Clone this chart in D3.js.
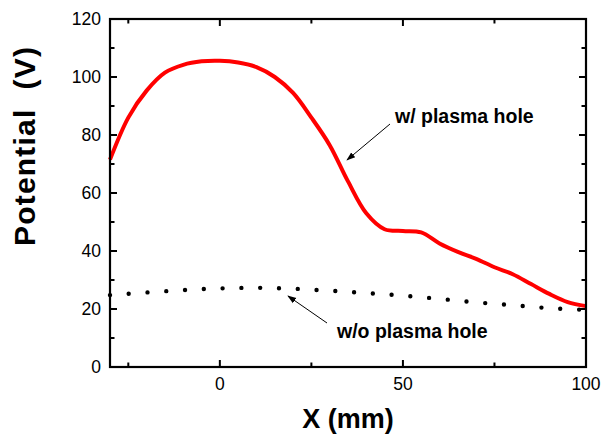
<!DOCTYPE html>
<html>
<head>
<meta charset="utf-8">
<script src="https://cdn.jsdelivr.net/npm/d3@7"></script>
<style>
  body { margin: 0; background: #fff; }
  text { font-family: "Liberation Sans", Arial, sans-serif; }
</style>
</head>
<body>
<div id="chart"></div>
<script>
        // Chart data
        var xWith = [-30, -25, -20, -15, -10, -5, 0, 5, 10, 15, 20, 25, 30, 35, 40, 45, 50, 55, 60, 65, 70, 75, 80, 85, 90, 95, 100];
        var potWith = [71.5, 86, 95.3, 101.5, 104.2, 105.4, 105.6, 105, 103.4, 100, 94.5, 86, 76.5, 64, 53, 47.5, 46.9, 46.4, 42.6, 39.7, 37.3, 34.4, 32, 28.6, 25.2, 22.4, 21];
        var xWithout = [-30, -20, -10, 0, 10, 20, 30, 40, 50, 60, 70, 80, 90, 100];
        var potWithout = [24.8, 25.7, 26.5, 27.1, 27.3, 27.0, 26.3, 25.5, 24.6, 23.5, 22.3, 21.3, 20.3, 19.7];
        var xTicks = [0, 50, 100];
        var xMinor = [-25, 25, 75];
        var yTicks = [0, 20, 40, 60, 80, 100, 120];
        var yMinor = [10, 30, 50, 70, 90, 110];

        var width = 608, height = 437;
        var margin = { top: 19, right: 22, bottom: 70, left: 110 };
        var plotW = width - margin.left - margin.right;
        var plotH = height - margin.top - margin.bottom;

        var svg = d3.select("#chart")
            .append("svg")
            .attr("width", width)
            .attr("height", height);

        var x = d3.scaleLinear().domain([-30, 100]).range([margin.left, margin.left + plotW]);
        var y = d3.scaleLinear().domain([0, 120]).range([margin.top + plotH, margin.top]);

        // arrow marker
        svg.append("defs").append("marker")
            .attr("id", "arrow")
            .attr("viewBox", "0 0 10 10")
            .attr("refX", 9).attr("refY", 5)
            .attr("markerWidth", 9).attr("markerHeight", 9)
            .attr("markerUnits", "userSpaceOnUse")
            .attr("orient", "auto")
            .append("path")
            .attr("d", "M0,1.5 L10,5 L0,8.5 Z")
            .attr("fill", "#000");

        // Curves
        var line = d3.line()
            .x(d => x(d[0]))
            .y(d => y(d[1]))
            .curve(d3.curveCatmullRom.alpha(0.5));

        svg.append("path")
            .datum(d3.zip(xWithout, potWithout))
            .attr("d", line)
            .attr("fill", "none")
            .attr("stroke", "#000")
            .attr("stroke-width", 4.4)
            .attr("stroke-linecap", "round")
            .attr("stroke-dasharray", "0 18.8");

        svg.append("path")
            .datum(d3.zip(xWith, potWith))
            .attr("d", line)
            .attr("fill", "none")
            .attr("stroke", "#ff0000")
            .attr("stroke-width", 4)
            .attr("stroke-linejoin", "round");

        // Inward ticks on all four sides
        var ticks = svg.append("g").attr("stroke", "#000").attr("stroke-width", 2);
        function xTick(vals, len) {
            vals.forEach(function(v) {
                ticks.append("line").attr("x1", x(v)).attr("x2", x(v))
                    .attr("y1", y(0)).attr("y2", y(0) - len);
                ticks.append("line").attr("x1", x(v)).attr("x2", x(v))
                    .attr("y1", y(120)).attr("y2", y(120) + len);
            });
        }
        function yTick(vals, len) {
            vals.forEach(function(v) {
                ticks.append("line").attr("y1", y(v)).attr("y2", y(v))
                    .attr("x1", x(-30)).attr("x2", x(-30) + len);
                ticks.append("line").attr("y1", y(v)).attr("y2", y(v))
                    .attr("x1", x(100)).attr("x2", x(100) - len);
            });
        }
        xTick(xTicks, 7); xTick(xMinor, 4.5);
        yTick(yTicks, 7); yTick(yMinor, 4.5);

        // Tick labels
        svg.append("g").selectAll("text")
            .data(xTicks).enter().append("text")
            .attr("x", d => x(d))
            .attr("y", y(0) + 23)
            .attr("text-anchor", "middle")
            .style("font-size", "17.5px")
            .text(d => d);

        svg.append("g").selectAll("text")
            .data(yTicks).enter().append("text")
            .attr("x", x(-30) - 9)
            .attr("y", d => y(d))
            .attr("dy", "0.36em")
            .attr("text-anchor", "end")
            .style("font-size", "17.5px")
            .text(d => d);

        // frame
        svg.append("rect")
            .attr("x", margin.left)
            .attr("y", margin.top)
            .attr("width", plotW)
            .attr("height", plotH)
            .attr("fill", "none")
            .attr("stroke", "#000")
            .attr("stroke-width", 2.2);

        // Axis titles
        svg.append("text")
            .attr("x", margin.left + plotW / 2)
            .attr("y", 428)
            .attr("text-anchor", "middle")
            .style("font-size", "27px")
            .style("font-weight", "bold")
            .text("X (mm)");

        svg.append("text")
            .attr("transform", "translate(35,246) rotate(-90)")
            .attr("text-anchor", "start")
            .style("font-size", "30px")
            .style("font-weight", "bold")
            .style("letter-spacing", "1.2px")
            .attr("xml:space", "preserve")
            .text("Potential  (V)");

        // Annotations
        svg.append("line")
            .attr("x1", 390).attr("y1", 124)
            .attr("x2", 347).attr("y2", 160)
            .attr("stroke", "#000").attr("stroke-width", 1)
            .attr("marker-end", "url(#arrow)");
        svg.append("text")
            .attr("x", 395).attr("y", 123)
            .style("font-size", "19.5px")
            .style("font-weight", "bold")
            .text("w/ plasma hole");

        svg.append("line")
            .attr("x1", 327).attr("y1", 323)
            .attr("x2", 288).attr("y2", 296)
            .attr("stroke", "#000").attr("stroke-width", 1)
            .attr("marker-end", "url(#arrow)");
        svg.append("text")
            .attr("x", 337).attr("y", 338)
            .style("font-size", "19.5px")
            .style("font-weight", "bold")
            .text("w/o plasma hole");
</script>
</body>
</html>
